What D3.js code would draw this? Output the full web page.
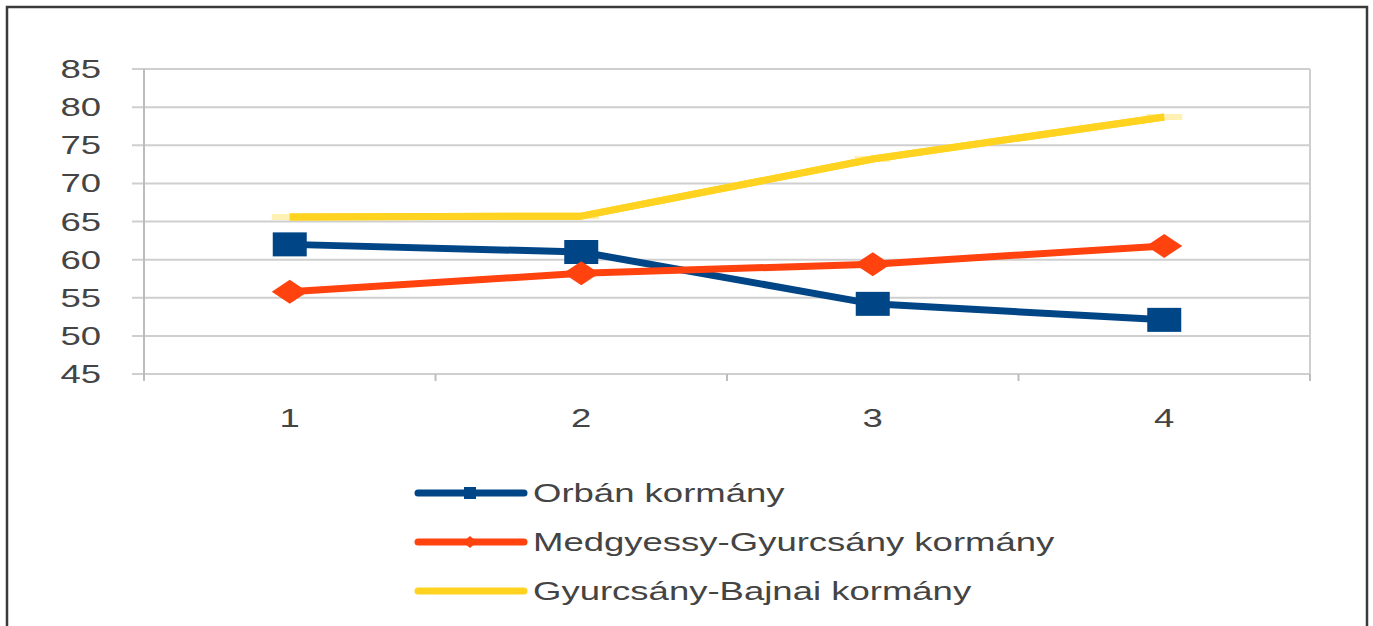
<!DOCTYPE html>
<html><head><meta charset="utf-8">
<script src="https://cdn.jsdelivr.net/npm/d3@7"></script>
<style>body{margin:0;background:#fff}svg{display:block}</style>
</head><body>
<svg id="c" width="1373" height="626"></svg>
<script>
const categories = ["1","2","3","4"];
const yTicks = [45,50,55,60,65,70,75,80,85];
const seriesNames = ["Orbán kormány","Medgyessy-Gyurcsány kormány","Gyurcsány-Bajnai kormány"];
const orban = [62.0, 61.0, 54.2, 52.1];
const medgyessy = [55.8, 58.2, 59.4, 61.8];
const bajnai = [65.6, 65.7, 73.2, 78.7];
const colors = ["#004586","#ff420e","#ffd320"];

const svg = d3.select("#c");
const stretch = 1.46;
const font = "Liberation Sans, Arial, sans-serif";

svg.append("rect").attr("x",7).attr("y",7).attr("width",1360).attr("height",640)
  .attr("fill","#fff").attr("stroke","#3a3a3a").attr("stroke-width",2.5);

const x = d3.scaleBand().domain(categories).range([144,1310]);
const y = d3.scaleLinear().domain([45,85]).range([374,69]);

const g = svg.append("g");
g.selectAll("line.grid").data(yTicks).join("line")
  .attr("x1",132).attr("x2",1310).attr("y1",d=>y(d)).attr("y2",d=>y(d))
  .attr("stroke","#cfcfcf").attr("stroke-width",2);
g.append("line").attr("x1",1310).attr("x2",1310).attr("y1",y(85)).attr("y2",y(45))
  .attr("stroke","#cfcfcf").attr("stroke-width",2);
g.append("line").attr("x1",144).attr("x2",144).attr("y1",y(85)).attr("y2",381)
  .attr("stroke","#bdbdbd").attr("stroke-width",2);
const bounds = categories.map(c=>x(c)).concat([x.range()[1]]);
g.selectAll("line.xt").data(bounds).join("line")
  .attr("x1",d=>d).attr("x2",d=>d).attr("y1",y(45)).attr("y2",381)
  .attr("stroke","#bdbdbd").attr("stroke-width",2);

function stretchText(sel){
  sel.each(function(){ const w=this.getComputedTextLength(); d3.select(this).attr("textLength",w*stretch).attr("lengthAdjust","spacingAndGlyphs"); });
}

g.selectAll("text.yl").data(yTicks).join("text")
  .attr("x",101).attr("y",d=>y(d)+9).attr("text-anchor","end")
  .attr("font-family",font).attr("font-size",25).attr("fill","#444")
  .text(d=>d).call(stretchText);
g.selectAll("text.xl").data(categories).join("text")
  .attr("x",d=>x(d)+x.bandwidth()/2).attr("y",427).attr("text-anchor","middle")
  .attr("font-family",font).attr("font-size",25).attr("fill","#444")
  .text(d=>d).call(stretchText);

const cx = c => x(c)+x.bandwidth()/2;
const series = [orban, medgyessy, bajnai];
const line = d3.line().x((d,i)=>cx(categories[i])).y(d=>y(d));
series.forEach((s,k)=>{
  g.append("path").attr("d",line(s)).attr("fill","none").attr("stroke",colors[k])
   .attr("stroke-width",7).attr("stroke-linejoin","round");
});
g.selectAll("rect.ym").data(bajnai).join("rect")
  .attr("x",(d,i)=>cx(categories[i])-18).attr("y",d=>y(d)-3).attr("width",36).attr("height",6)
  .attr("fill","#ffe680").attr("opacity",0.6);
g.selectAll("rect.sq").data(orban).join("rect")
  .attr("x",(d,i)=>cx(categories[i])-17).attr("y",d=>y(d)-12).attr("width",34).attr("height",24)
  .attr("fill",colors[0]);
g.selectAll("path.dm").data(medgyessy).join("path")
  .attr("d",(d,i)=>{const px=cx(categories[i]),py=y(d);return `M${px-18},${py}L${px},${py-12}L${px+18},${py}L${px},${py+12}Z`;})
  .attr("fill",colors[1]);
g.append("path").attr("d",line(bajnai)).attr("fill","none").attr("stroke",colors[2])
   .attr("stroke-width",7).attr("stroke-linejoin","round");

const legY = [493,542,591];
const lg = svg.append("g");
seriesNames.forEach((n,k)=>{
  lg.append("line").attr("x1",418).attr("x2",524).attr("y1",legY[k]).attr("y2",legY[k])
    .attr("stroke",colors[k]).attr("stroke-width",7).attr("stroke-linecap","round");
  if(k===0) lg.append("rect").attr("x",464).attr("y",legY[k]-6).attr("width",12).attr("height",12).attr("fill",colors[0]);
  if(k===1) lg.append("path").attr("d",`M463,${legY[k]}L470,${legY[k]-6}L477,${legY[k]}L470,${legY[k]+6}Z`).attr("fill",colors[1]);
  lg.append("text").attr("x",533).attr("y",legY[k]+9)
    .attr("font-family",font).attr("font-size",25).attr("fill","#444").text(n).call(stretchText);
});
</script>
</body></html>
